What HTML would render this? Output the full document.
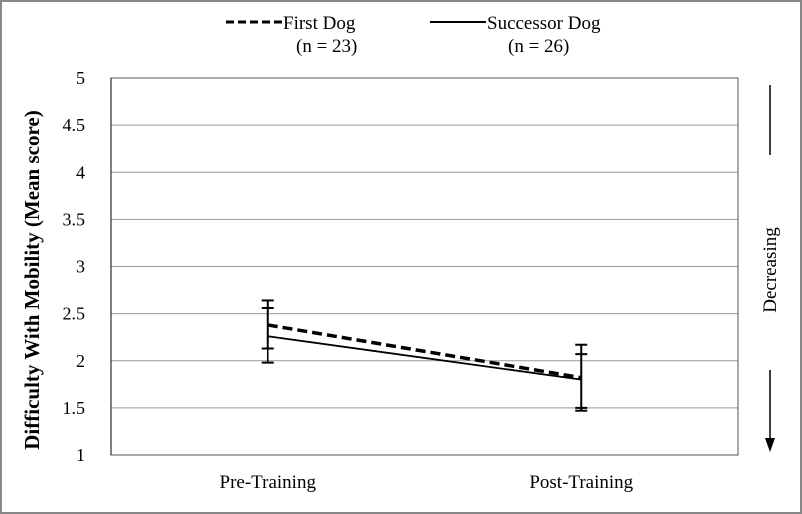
<!DOCTYPE html>
<html><head><meta charset="utf-8"><style>
body{margin:0;background:#fff;}
svg{display:block;font-family:"Liberation Serif",serif;}
</style></head><body>
<svg id="c" width="802" height="514" xmlns="http://www.w3.org/2000/svg">
<rect x="1" y="1" width="800" height="512" fill="#fff" stroke="#888" stroke-width="2"/>
<g id="grid"></g>
<g id="yt"></g>
<g id="xt"></g>
<g id="series"></g>
<text x="0" y="0" transform="translate(39,280) rotate(-90)" text-anchor="middle" font-size="21" font-weight="bold">Difficulty With Mobility (Mean score)</text>
<g>
<g>
<line x1="226" y1="22" x2="282" y2="22" stroke="#000" stroke-width="3" stroke-dasharray="8,4"/>
<text x="283" y="29" font-size="19">First Dog</text>
<text x="296" y="52" font-size="19">(n = 23)</text></g>
<g>
<line x1="430" y1="22" x2="486" y2="22" stroke="#000" stroke-width="2"/>
<text x="487" y="29" font-size="19">Successor Dog</text>
<text x="508" y="52" font-size="19">(n = 26)</text></g>
</g>
<g>
<line x1="770" y1="85" x2="770" y2="155" stroke="#000" stroke-width="1.5"/>
<text transform="translate(776,270) rotate(-90)" text-anchor="middle" font-size="19">Decreasing</text>
<line x1="770" y1="370" x2="770" y2="440" stroke="#000" stroke-width="1.5"/>
<polygon points="765,438 775,438 770,452" fill="#000"/>
</g>
</svg>
<script>
const categories=["Pre-Training","Post-Training"];
const firstMean=[2.38,1.82];
const firstLow=[2.13,1.47];
const firstHigh=[2.64,2.17];
const succMean=[2.26,1.80];
const succLow=[1.98,1.50];
const succHigh=[2.56,2.07];
const yTicks=["1","1.5","2","2.5","3","3.5","4","4.5","5"];
const NS="http://www.w3.org/2000/svg";
const L=111,R=738,T=78,B=455,ymin=1,ymax=5;
function y(v){return B-(v-ymin)/(ymax-ymin)*(B-T);}
function x(i){return L+(i+0.5)*(R-L)/categories.length;}
function mk(tag,a,p){const e=document.createElementNS(NS,tag);for(const k in a)e.setAttribute(k,a[k]);p.appendChild(e);return e;}
const grid=document.getElementById('grid'),yt=document.getElementById('yt'),xt=document.getElementById('xt'),sr=document.getElementById('series');
yTicks.forEach(t=>{const v=parseFloat(t);
const g=mk('line',{x1:L,x2:R,y1:y(v),y2:y(v),stroke:v==ymin?'#000':'#999','stroke-width':1},grid);


const tx=mk('text',{x:L-26,y:y(v)+6,'text-anchor':'end','font-size':18},yt);tx.textContent=t;

});
const fr=mk('rect',{x:L,y:T,width:R-L,height:B-T,fill:'none',stroke:'#555','stroke-width':1},grid);


mk('line',{x1:L,x2:L,y1:T,y2:B,stroke:'#000'},grid);
categories.forEach((c,i)=>{const t=mk('text',{x:x(i),y:B+33,'text-anchor':'middle','font-size':19},xt);t.textContent=c;

});
function err(lo,hi,name,w){for(let i=0;i<categories.length;i++){const g=mk('g',{},sr);


mk('line',{x1:x(i),x2:x(i),y1:y(lo[i]),y2:y(hi[i]),stroke:'#000','stroke-width':w},g);
[lo[i],hi[i]].forEach(v=>mk('line',{x1:x(i)-6,x2:x(i)+6,y1:y(v),y2:y(v),stroke:'#000','stroke-width':2},g));}}
err(firstLow,firstHigh,'error-bar-first-dog',2);
err(succLow,succHigh,'error-bar-successor-dog',1.5);
function line(m,name,dash,w){const p=mk('polyline',{points:m.map((v,i)=>x(i)+','+y(v)).join(' '),fill:'none',stroke:'#000','stroke-width':w},sr);
if(dash)p.setAttribute('stroke-dasharray',dash);

}
line(firstMean,'line-first-dog','10,5',3.5);
line(succMean,'line-successor-dog',null,1.8);
</script>
</body></html>
